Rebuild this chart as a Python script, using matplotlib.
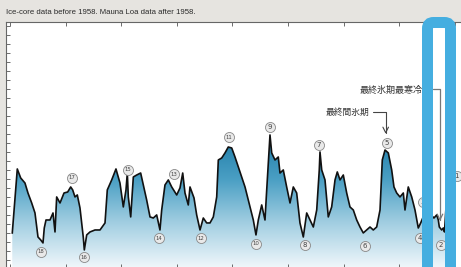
import matplotlib.pyplot as plt
import matplotlib.transforms as mtransforms
import numpy as np
from matplotlib.colors import LinearSegmentedColormap
from matplotlib.patches import FancyBboxPatch, Polygon

plt.rcParams['font.family'] = ['Noto Sans CJK JP', 'DejaVu Sans']

# 年代 (千年前) と CO2 濃度 (ppm)
age = [795.9, 786.9, 780.8, 773.1, 767.7, 761.0, 758.7, 755.1, 749.7, 744.8,
       740.7, 738.4, 735.3, 728.1, 722.7, 719.1, 716.1, 710.1, 702.9, 696.3,
       690.9, 687.3, 683.2, 679.0, 674.2, 668.3, 666.4, 662.1, 656.2, 647.2,
       638.2, 629.2, 625.1, 617.2, 609.5, 602.3, 596.3, 591.5, 589.1, 587.3,
       583.0, 578.3, 572.2, 565.1, 560.4, 554.3, 548.3, 542.4, 536.3, 530.4,
       527.3, 521.4, 515.4, 509.3, 500.3, 494.4, 489.5, 485.4, 479.5, 476.4,
       469.2, 464.4, 458.4, 452.5, 446.4, 440.5, 434.5, 428.4, 425.5, 419.4,
       413.5, 407.6, 401.4, 395.5, 389.6, 383.5, 377.5, 371.6, 368.5, 362.6,
       357.8, 353.6, 347.5, 341.6, 338.5, 332.6, 329.5, 323.6, 317.7, 314.6,
       308.7, 302.6, 296.6, 290.7, 284.6, 278.7, 272.7, 266.6, 260.7, 254.7,
       248.6, 244.0, 242.7, 239.6, 233.7, 227.8, 221.7, 215.7, 211.6, 206.7,
       200.8, 194.7, 188.8, 182.8, 176.7, 170.8, 164.9, 158.7, 152.8, 146.9,
       140.8, 134.8, 130.7, 125.8, 119.9, 113.8, 109.7, 104.8, 98.9, 92.9,
       89.9, 84.0, 77.8, 71.9, 66.0, 61.7, 55.7, 48.5, 43.1, 37.8,
       32.9, 30.0, 28.2, 23.9, 21.0, 18.9, 14.0, 10.0, 6.0, 1.0]
co2 = [189.8, 260.9, 250.9, 245.3, 234.2, 223.1, 218.7, 212.0, 185.3, 182.0,
       178.7, 195.3, 204.2, 204.2, 212.0, 190.9, 229.8, 223.1, 234.2, 235.3,
       240.9, 237.6, 229.8, 232.0, 217.6, 185.3, 170.9, 187.6, 190.9, 193.1,
       193.1, 200.9, 237.6, 248.7, 260.9, 245.3, 218.7, 237.6, 256.4, 229.8,
       207.6, 252.0, 254.2, 256.4, 243.1, 226.4, 207.6, 206.4, 209.8, 193.1,
       215.3, 243.1, 248.7, 240.9, 232.0, 239.8, 256.4, 234.2, 220.9, 240.9,
       228.7, 209.8, 193.1, 206.4, 200.9, 200.9, 207.6, 229.8, 270.9, 273.1,
       278.7, 285.3, 284.2, 274.2, 263.1, 252.0, 240.9, 226.4, 218.7, 204.2,
       187.6, 204.2, 220.9, 204.2, 237.6, 298.7, 278.7, 270.9, 274.2, 256.4,
       259.8, 240.9, 223.1, 240.9, 234.2, 200.9, 185.3, 212.0, 204.2, 196.4,
       215.3, 259.8, 279.8, 259.8, 248.7, 207.6, 218.7, 248.7, 257.6, 248.7,
       254.2, 234.2, 218.7, 215.3, 204.2, 196.4, 189.8, 193.1, 196.4, 193.1,
       196.4, 215.3, 270.9, 282.0, 278.7, 259.8, 240.9, 234.2, 229.8, 234.2,
       215.3, 240.9, 229.8, 215.3, 195.3, 200.9, 209.8, 215.3, 209.8, 206.4,
       209.8, 204.2, 196.4, 193.1, 195.3, 190.9, 240.0, 262.0, 275.0, 280.0]

# 海洋酸素同位体ステージ番号 (ラベル位置)
stage_no = [18, 17, 16, 15, 14, 13, 12, 11, 10, 9, 8, 7, 6, 5, 4, 3, 2, 1]
stage_age = [744.3, 689.1, 666.4, 587.9, 531.6, 505.2, 457.2, 406.3, 358.3,
             332.6, 269.7, 244.5, 161.8, 122.8, 62.9, 57.5, 25.2, -3.1]
stage_co2 = [169.0, 251.4, 162.8, 259.8, 183.9, 255.0, 183.9, 296.1, 177.6,
             307.2, 176.4, 287.6, 175.3, 290.2, 183.9, 224.6, 176.4, 253.4]

title = 'Ice-core data before 1958. Mauna Loa data after 1958.'

W, H = 461, 267
xmin, xmax = 807.2, -10.8
ymin, ymax = 151.4, 424.2

fig = plt.figure(figsize=(W / 100, H / 100), dpi=100, facecolor='#e6e4e0')
ax = fig.add_axes([6 / W, (H - 267.5) / H, (W - 6) / W, (267.5 - 22) / H])
ax.set_facecolor('white')

# グラデーション塗り
cmap = LinearSegmentedColormap.from_list(
    'co2', [(0, '#f0f7fb'), (0.18, '#a3cfe2'), (0.36, '#4a9fc4'),
            (0.55, '#1c7aa6'), (1, '#1c7aa6')])
grad = np.linspace(0, 1, 256).reshape(-1, 1)
im = ax.imshow(grad, extent=[xmin, xmax, ymin, ymax], origin='lower',
               cmap=cmap, aspect='auto', zorder=1)
verts = np.column_stack([age + [age[-1], age[0]], co2 + [ymin, ymin]])
poly = Polygon(verts, closed=True, fc='none', ec='none')
ax.add_patch(poly)
im.set_clip_path(poly)
ax.plot(age, co2, color='#111111', lw=1.2, zorder=3)

ax.set_xlim(xmin, xmax)
ax.set_ylim(ymin, ymax)

# ステージ番号の丸印
ax.scatter(stage_age, stage_co2, s=52, c='#e9e9e9', edgecolors='#888888',
           linewidths=0.6, zorder=4, clip_on=False)
for n, a, c in zip(stage_no, stage_age, stage_co2):
    ax.text(a, c, str(n), fontsize=3.9 if n >= 10 else 5, color='#444444',
            ha='center', va='center', family='DejaVu Sans', zorder=5)

# 注記
ax.text(154.6, 324.2, '最終間氷期', fontsize=6.3, color='#333333',
        ha='right', va='center', zorder=6)
ax.annotate('', xy=(124.6, 299.8), xytext=(147.4, 324.6),
            arrowprops=dict(arrowstyle='->', color='#444444', lw=0.8,
                            shrinkA=0, shrinkB=0,
                            connectionstyle='angle,angleA=0,angleB=90,rad=0'),
            zorder=6)
ax.text(41.3, 348.7, '最終氷期最寒冷期', fontsize=6.5, color='#333333',
        ha='right', va='center', zorder=6)
ax.annotate('', xy=(27.0, 203.0), xytext=(39.6, 349.8),
            arrowprops=dict(arrowstyle='->', color='#777777', lw=0.9,
                            shrinkA=0, shrinkB=0,
                            connectionstyle='angle,angleA=0,angleB=90,rad=0'),
            zorder=6)

# 軸
ax.spines['right'].set_visible(False)
for s in ['top', 'left', 'bottom']:
    ax.spines[s].set_color('#666666')
    ax.spines[s].set_linewidth(0.8)
ax.set_xticks(np.arange(800, -1, -100))
ax.set_yticks(np.arange(160, 430, 10))
ax.tick_params(axis='x', which='both', direction='in', top=True, bottom=True,
               length=3, width=0.6, color='#555555',
               labelbottom=False, labeltop=False)
ax.tick_params(axis='y', direction='in', length=3, width=0.6,
               color='#555555', labelleft=False)

fig.text(6 / W, 1 - 13 / H, title, fontsize=5.6, color='#2a2a2a', va='center',
         family=['Liberation Sans Narrow', 'Liberation Sans'])

# 強調枠
frame = FancyBboxPatch((427.5, -12), 23, H - 22.5 + 12,
                       boxstyle='round,pad=0,rounding_size=6',
                       fc='none', ec='#45aee0', lw=11 * 0.72,
                       transform=mtransforms.IdentityTransform(), zorder=10)
fig.patches.append(frame)

fig.savefig('out.png', dpi=100, facecolor=fig.get_facecolor())
